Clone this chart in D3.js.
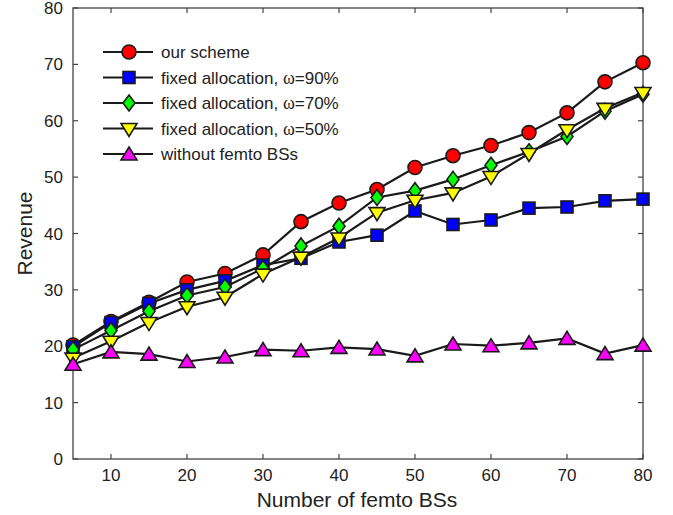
<!DOCTYPE html>
<html><head><meta charset="utf-8">
<script src="https://cdn.jsdelivr.net/npm/d3@7"></script>
<style>body{margin:0;background:#fff}svg{display:block}text{font-family:"Liberation Sans",Arial,sans-serif;fill:#222}</style>
</head><body><svg id="c" width="673" height="515"></svg>
<script>
const xs = [5,10,15,20,25,30,35,40,45,50,55,60,65,70,75,80];
const ourScheme = [20.2,24.4,27.8,31.4,32.9,36.2,42.1,45.4,47.8,51.7,53.8,55.6,57.9,61.4,66.9,70.3];
const fixed90 = [19.9,24.2,27.6,30.0,31.6,34.4,35.6,38.5,39.7,44.0,41.6,42.4,44.5,44.7,45.8,46.1];
const fixed70 = [19.4,22.8,26.2,29.0,30.5,33.8,37.8,41.3,46.4,47.6,49.6,52.1,54.5,57.2,61.7,64.7];
const fixed50 = [17.9,20.9,24.2,27.0,28.7,32.8,35.8,39.2,43.7,45.9,47.2,50.1,54.2,58.4,62.2,65.0];
const noFemto = [16.8,19.0,18.6,17.3,18.1,19.4,19.2,19.8,19.5,18.3,20.4,20.1,20.6,21.4,18.7,20.2];
const xTicks = [10,20,30,40,50,60,70,80];
const yTicks = [0,10,20,30,40,50,60,70,80];
const seriesNames = [["our scheme",""],["fixed allocation, ","90%"],["fixed allocation, ","70%"],["fixed allocation, ","50%"],["without femto BSs",""]];
const seriesColors = ["#ff0000","#0000ff","#00ff00","#ffff00","#ff00ff"];
const seriesSymbols = ["circle","square","diamond","down","up"];
const seriesData = [ourScheme, fixed90, fixed70, fixed50, noFemto];

const svg = d3.select("#c");
const L=73,R=643,T=8,B=459;
const x = d3.scaleLinear().domain([5,80]).range([L,R]);
const y = d3.scaleLinear().domain([0,80]).range([B,T]);
const axisCol="#444";

svg.append("rect").attr("x",L).attr("y",T).attr("width",R-L).attr("height",B-T)
  .attr("fill","none").attr("stroke",axisCol).attr("stroke-width",1.3);
const tl=5;
xTicks.forEach(t=>{
  svg.append("line").attr("x1",x(t)).attr("x2",x(t)).attr("y1",B).attr("y2",B-tl).attr("stroke",axisCol).attr("stroke-width",1.2);
  svg.append("line").attr("x1",x(t)).attr("x2",x(t)).attr("y1",T).attr("y2",T+tl).attr("stroke",axisCol).attr("stroke-width",1.2);
  svg.append("text").attr("x",x(t)).attr("y",B+22).attr("text-anchor","middle").attr("font-size",17).text(t);
});
yTicks.forEach(t=>{
  svg.append("line").attr("x1",L).attr("x2",L+tl).attr("y1",y(t)).attr("y2",y(t)).attr("stroke",axisCol).attr("stroke-width",1.2);
  svg.append("line").attr("x1",R).attr("x2",R-tl).attr("y1",y(t)).attr("y2",y(t)).attr("stroke",axisCol).attr("stroke-width",1.2);
  svg.append("text").attr("x",63).attr("y",y(t)+6).attr("text-anchor","end").attr("font-size",17).text(t);
});
svg.append("text").attr("x",357).attr("y",507).attr("text-anchor","middle").attr("font-size",21).text("Number of femto BSs");
svg.append("text").attr("transform",`translate(32,${(T+B)/2}) rotate(-90)`).attr("text-anchor","middle").attr("font-size",21).text("Revenue");

function marker(g, sym, cx, cy, color){
  let el;
  if(sym==="circle") el=g.append("circle").attr("cx",cx).attr("cy",cy).attr("r",7);
  else if(sym==="square") el=g.append("rect").attr("x",cx-6).attr("y",cy-6).attr("width",12).attr("height",12);
  else if(sym==="diamond") el=g.append("path").attr("d",`M${cx},${cy-8}L${cx+6},${cy}L${cx},${cy+8}L${cx-6},${cy}Z`);
  else if(sym==="down") el=g.append("path").attr("d",`M${cx-8},${cy-5}L${cx+8},${cy-5}L${cx},${cy+8}Z`);
  else el=g.append("path").attr("d",`M${cx-8},${cy+6}L${cx+8},${cy+6}L${cx},${cy-7}Z`);
  el.attr("fill",color).attr("stroke","#1a1a1a").attr("stroke-width",1.6).attr("stroke-linejoin","miter");
}

const line = d3.line().x((d,i)=>x(xs[i])).y(d=>y(d));
seriesData.forEach((data,si)=>{
  const g=svg.append("g");
  g.append("path").attr("d",line(data)).attr("fill","none").attr("stroke","#1a1a1a").attr("stroke-width",2.2);
  data.forEach((v,i)=>marker(g,seriesSymbols[si],x(xs[i]),y(v),seriesColors[si]));
});

const legY=[52,77.5,103,128.5,154];
seriesNames.forEach((n,i)=>{
  const g=svg.append("g");
  g.append("line").attr("x1",103).attr("x2",153).attr("y1",legY[i]).attr("y2",legY[i]).attr("stroke","#1a1a1a").attr("stroke-width",2.2);
  marker(g,seriesSymbols[i],129,legY[i],seriesColors[i]);
  const t=g.append("text").attr("x",161).attr("y",legY[i]+6).attr("font-size",17);
  t.append("tspan").text(n[0]);
  if(n[1]){
    t.append("tspan").attr("font-family","'Liberation Serif','Times New Roman',serif").attr("font-size",18).text("\u03c9");
    t.append("tspan").text("="+n[1]);
  }
});
</script></body></html>
